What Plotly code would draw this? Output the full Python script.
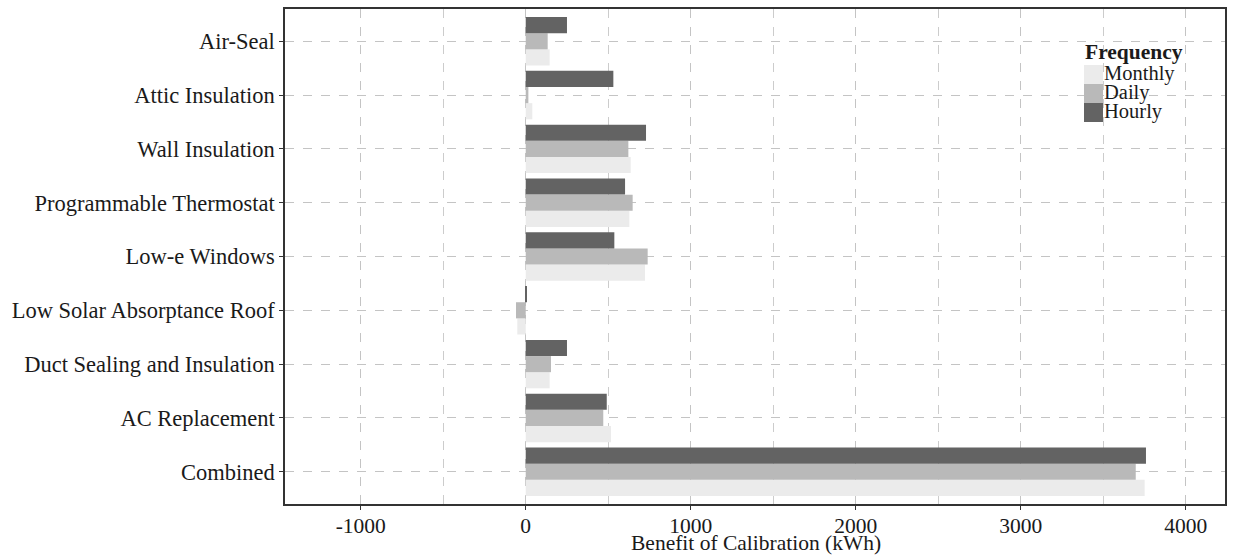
import plotly.graph_objects as go

# Retrofit measures, listed top to bottom
measures = [
    "Air-Seal",
    "Attic Insulation",
    "Wall Insulation",
    "Programmable Thermostat",
    "Low-e Windows",
    "Low Solar Absorptance Roof",
    "Duct Sealing and Insulation",
    "AC Replacement",
    "Combined",
]

# Benefit of calibration (kWh) by calibration data frequency
monthly = [145, 40, 636, 628, 723, -51, 145, 517, 3751]
daily = [133, 16, 622, 648, 739, -59, 153, 470, 3697]
hourly = [250, 531, 729, 602, 537, 3, 250, 491, 3759]

frequencies = ["Monthly", "Daily", "Hourly"]
fills = ["#ebebeb", "#b9b9b9", "#636363"]

x_ticks = [-1000, 0, 1000, 2000, 3000, 4000]
x_ticklabels = ["-1000", "0", "1000", "2000", "3000", "4000"]
x_title = "Benefit of Calibration (kWh)"

FONT = "Liberation Serif, Times New Roman, serif"
TEXT = "#1a1a1a"

fig = go.Figure()
for name, values, color in zip(frequencies, [monthly, daily, hourly], fills):
    fig.add_trace(go.Bar(
        y=measures,
        x=values,
        name=name,
        orientation="h",
        marker=dict(color=color, line=dict(width=0)),
        showlegend=False,
    ))

fig.update_layout(
    width=1233,
    height=556,
    margin=dict(l=285, r=8, t=9, b=52, autoexpand=False),
    paper_bgcolor="white",
    plot_bgcolor="white",
    barmode="group",
    bargap=0.1,
    bargroupgap=0,
    font=dict(family=FONT, color=TEXT, size=22),
    xaxis=dict(
        range=[-1459, 4238],
        automargin=False,
        tickvals=x_ticks,
        ticktext=x_ticklabels,
        tickfont=dict(size=21.5, color=TEXT),
        ticks="outside",
        ticklen=4,
        ticklabelstandoff=-3,
        tickcolor="#333333",
        showgrid=True,
        gridcolor="#c4c4c4",
        griddash="dash",
        gridwidth=1,
        minor=dict(dtick=500, tick0=-500, showgrid=True, gridcolor="#cccccc",
                   griddash="dash", gridwidth=1),
        zeroline=False,
        showline=True,
        linecolor="#333333",
        linewidth=1.5,
        mirror=True,
    ),
    yaxis=dict(
        categoryorder="array",
        categoryarray=measures[::-1],
        range=[-0.6, 8.6],
        automargin=False,
        tickfont=dict(size=22.5, color=TEXT),
        ticks="outside",
        ticklen=4,
        tickcolor="#333333",
        showgrid=True,
        gridcolor="#c4c4c4",
        griddash="dash",
        gridwidth=1,
        zeroline=False,
        showline=True,
        linecolor="#333333",
        linewidth=1.5,
        mirror=True,
    ),
)

# Pixel helpers relative to the plotting panel
plot_left, plot_right, plot_top, plot_bottom = 285, 1225, 9, 504


def fx(px):
    return (px - plot_left) / (plot_right - plot_left)


def fy(py):
    return (plot_bottom - py) / (plot_bottom - plot_top)


# x-axis title, tucked close under the tick labels
fig.add_annotation(
    xref="paper", yref="paper", x=fx(756), y=fy(543),
    text=x_title, showarrow=False,
    xanchor="center", yanchor="middle", font=dict(size=21.5, color=TEXT),
)

# Legend block: title plus stacked colour keys
lx0, lx1 = 1084, 1103
ly0 = 65
key_h = 19

fig.add_annotation(
    xref="paper", yref="paper", x=fx(lx0 - 1), y=fy(52),
    text="<b>Frequency</b>", showarrow=False,
    xanchor="left", yanchor="middle", font=dict(size=21.5, color=TEXT),
)
for i, (name, color) in enumerate(zip(frequencies, fills)):
    top = ly0 + i * key_h
    fig.add_shape(
        type="rect", xref="paper", yref="paper",
        x0=fx(lx0), x1=fx(lx1),
        y0=fy(top + key_h), y1=fy(top),
        fillcolor=color, line=dict(width=0), layer="above",
    )
    fig.add_annotation(
        xref="paper", yref="paper", x=fx(lx1 - 1), y=fy(top + key_h / 2 - 1),
        text=name, showarrow=False,
        xanchor="left", yanchor="middle", font=dict(size=20.5, color=TEXT),
    )

fig.write_html("out.html")
